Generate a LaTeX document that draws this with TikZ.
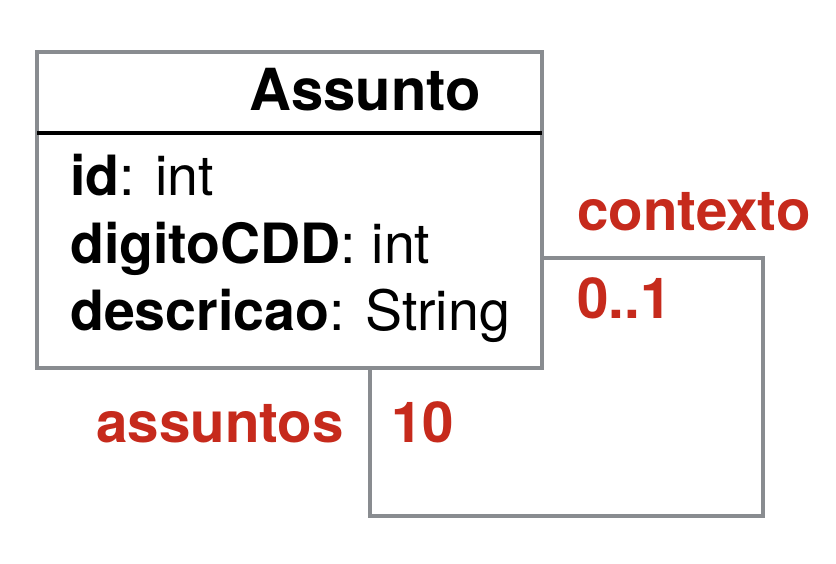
\documentclass[tikz,border=0pt]{standalone}
\usepackage{fontspec}
\setmainfont{TeX Gyre Heros}
\usetikzlibrary{positioning}
\definecolor{umlgray}{HTML}{898C90}
\definecolor{umlred}{HTML}{C62A1C}

\begin{document}
\begin{tikzpicture}[x=1pt,y=-1pt,
		line/.style={draw=umlgray,line width=4.5pt},
		attr/.style={font=\fontsize{55.5}{60}\selectfont,inner sep=0pt,anchor=base west},
		mult/.style={text=umlred,font=\fontsize{56.5}{60}\selectfont\bfseries,inner sep=0pt,anchor=base west}]
		\useasboundingbox (0,0) rectangle (836,563);
		% self association
		\node[inner sep=0pt,outer sep=0pt,minimum width=505pt,minimum height=316pt,anchor=north west] (assunto) at (37,52) {};
		\draw[line] (assunto.east |- 0,258) -| (763,516) -| (assunto.south -| 370,0);
		% class box
		\draw[line,fill=white] (assunto.north west) rectangle (assunto.south east);
		\draw[black,line width=3.5pt] (assunto.west |- 0,133) -- (assunto.east |- 0,133);
		\node[font=\fontsize{58}{60}\selectfont\bfseries,inner sep=0pt,anchor=base] (titulo) at (365,110) {Assunto};
		% attributes
		\node[attr] (id) at (70,195) {\textbf{id}: int};
		\node[attr] (digito) at (70,263) {\textbf{digitoCDD}: int};
		\node[attr] (descricao) at (70,330) {\textbf{descricao}: String};
		% roles and multiplicities
		\node[mult] (contexto) at (577,230) {contexto};
		\node[mult] (zeroum) at (577,318) {0..1};
		\node[mult] (dez) at (391,442) {10};
		\node[mult,anchor=base east] (assuntos) at (344,442) {assuntos};
	\end{tikzpicture}
\end{document}
